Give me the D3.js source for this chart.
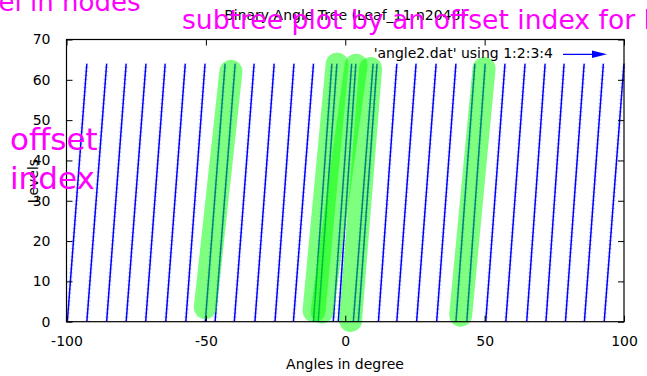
<!DOCTYPE html>
<html>
<head>
<meta charset="utf-8">
<script src="https://cdn.jsdelivr.net/npm/d3@7/dist/d3.min.js"></script>
<style>
  html, body { margin: 0; padding: 0; background: #fff; }
  svg { display: block; font-family: 'DejaVu Sans', sans-serif; }
</style>
</head>
<body>
<div id="chart"></div>
<script>
// angle (deg) where each leaf path starts at level 0 and where it ends at the top level
const leafStart = [-99.7, -92.7, -85.6, -78.6, -71.6, -64.4, -57.2, -50.2, -46.7, -39.8, -32.4, -25.2, -18.6,
  -11.4, -9.7, -4.3, -2.5, 2.9, 4.7, 11.9, 18.5, 25.6, 32.8, 39.7, 43.6, 50.4, 57.6, 65.1, 72.0, 79.0, 85.8, 92.9];
const leafEnd = [-92.7, -85.6, -78.6, -71.5, -64.6, -57.4, -50.3, -43.1, -39.5, -32.7, -25.5, -18.4, -11.4,
  -4.8, -3.0, 2.3, 3.8, 10.0, 11.4, 18.5, 25.4, 32.6, 39.7, 46.5, 50.2, 57.3, 64.5, 71.7, 78.5, 85.7, 92.6, 100.0];
const topLevel = 64;

// highlighted subtrees (thick green strokes)
const subX0 = [-50.2, -11.2, -8.3, 1.9, 41.4];
const subY0 = [3.5, 2.7, 2.4, 0.3, 1.6];
const subX1 = [-41.0, -2.9, 3.9, 9.1, 49.8];
const subY1 = [62.1, 63.9, 63.6, 62.8, 62.8];

const xTicks = [-100, -50, 0, 50, 100];
const yTicks = [0, 10, 20, 30, 40, 50, 60, 70];

const width = 647, height = 376;
const svg = d3.select('#chart').append('svg').attr('width', width).attr('height', height);
svg.append('rect').attr('width', width).attr('height', height).attr('fill', '#fff');

const x = d3.scaleLinear().domain([-100, 100]).range([66.5, 624]);
const y = d3.scaleLinear().domain([0, 70]).range([321.7, 39.5]);

const plot = svg.append('g');
const leaves = leafStart.map((s, i) => ({ s, e: leafEnd[i] }));

// pale arrow heads along each path
plot.selectAll('line.head').data(leaves).enter().append('line')
  .attr('class', 'head')
  .attr('x1', d => x(d.s)).attr('y1', y(0))
  .attr('x2', d => x(d.e)).attr('y2', y(topLevel))
  .style('stroke', 'rgba(110,110,255,0.45)')
  .style('stroke-width', 4)
  .style('stroke-dasharray', '1,3.04');

plot.selectAll('line.leaf').data(leaves).enter().append('line')
  .attr('class', 'leaf')
  .attr('x1', d => x(d.s)).attr('y1', y(0))
  .attr('x2', d => x(d.e)).attr('y2', y(topLevel))
  .style('stroke', '#0000ff')
  .style('stroke-width', 1.5);

const subs = subX0.map((v, i) => ({ x0: v, y0: subY0[i], x1: subX1[i], y1: subY1[i] }));
svg.selectAll('line.sub').data(subs).enter().append('line')
  .attr('class', 'sub')
  .attr('x1', d => x(d.x0)).attr('y1', d => y(d.y0))
  .attr('x2', d => x(d.x1)).attr('y2', d => y(d.y1))
  .style('stroke', 'rgba(0,255,0,0.5)')
  .style('stroke-width', 23)
  .style('stroke-linecap', 'round');

// axes, gnuplot style: ticks inside and mirrored
const fmt = d => String(d);
const axes = svg.append('g');
axes.append('g').attr('transform', `translate(0,${y(0)})`)
  .call(d3.axisBottom(x).tickValues(xTicks).tickSizeInner(-6).tickSizeOuter(0).tickPadding(14).tickFormat(fmt));
axes.append('g').attr('transform', `translate(0,${y(70)})`)
  .call(d3.axisTop(x).tickValues(xTicks).tickSizeInner(-6).tickSizeOuter(0).tickFormat(''));
axes.append('g').attr('transform', `translate(${x(-100)},0)`)
  .call(d3.axisLeft(y).tickValues(yTicks).tickSizeInner(-6).tickSizeOuter(0).tickPadding(16).tickFormat(fmt));
axes.append('g').attr('transform', `translate(${x(100)},0)`)
  .call(d3.axisRight(y).tickValues(yTicks).tickSizeInner(-6).tickSizeOuter(0).tickFormat(''));
axes.selectAll('.domain').remove();
axes.selectAll('.tick line').style('stroke', '#000');
axes.selectAll('text').style('font-family', 'DejaVu Sans').style('font-size', '14px').attr('fill', '#000');

svg.append('rect')
  .attr('x', x(-100)).attr('y', y(70))
  .attr('width', x(100) - x(-100)).attr('height', y(0) - y(70))
  .attr('fill', 'none').attr('stroke', '#000').attr('stroke-width', 1.2);

svg.append('text').attr('x', 345).attr('y', 20).attr('text-anchor', 'middle')
  .style('font-size', '14px').text('Binary Angle Tree (Leaf_11 n2048)');
svg.append('text').attr('x', 345).attr('y', 369).attr('text-anchor', 'middle')
  .style('font-size', '14px').text('Angles in degree');
svg.append('text').attr('transform', 'translate(38,181) rotate(-90)').attr('text-anchor', 'middle')
  .style('font-size', '14px').text('Levels');

// legend
svg.append('text').attr('x', 553).attr('y', 58).attr('text-anchor', 'end')
  .style('font-size', '14px').text("'angle2.dat' using 1:2:3:4");
svg.append('line').attr('x1', 563).attr('y1', 54.3).attr('x2', 596).attr('y2', 54.3)
  .style('stroke', '#0000ff').style('stroke-width', 1.2);
svg.append('path').attr('d', 'M607,54.3 L592,50.5 L592,58.1 Z').attr('fill', '#0000ff');

// magenta annotations on top
const note = svg.append('g').attr('fill', '#ff00ff');
note.append('text').attr('x', -40).attr('y', 11).style('font-size', '26px').text('level in nodes');
note.append('text').attr('x', 182).attr('y', 29).style('font-size', '26.6px').text('subtree plot by an offset index for level');
note.append('text').attr('x', 10).attr('y', 150).style('font-size', '31px').text('offset');
note.append('text').attr('x', 10).attr('y', 189).style('font-size', '31px').text('index');
</script>
</body>
</html>
